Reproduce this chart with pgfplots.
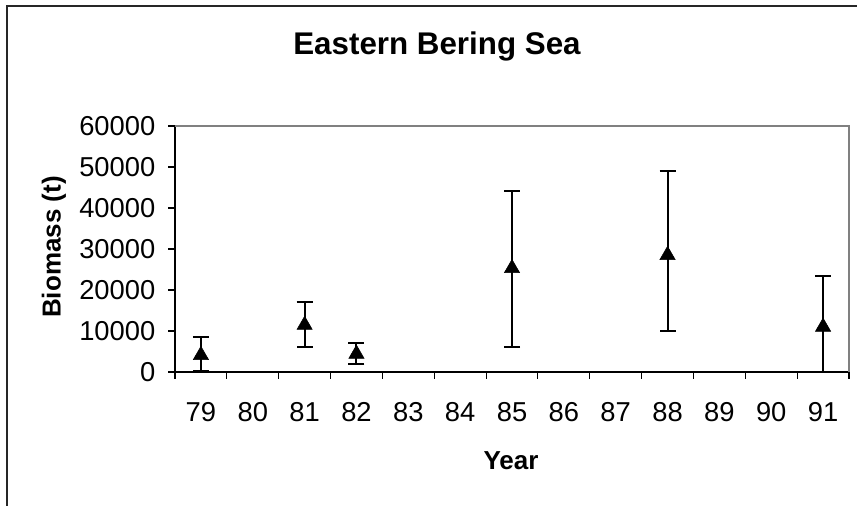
\documentclass[border=0pt]{standalone}
\usepackage{pgfplots}
\pgfplotsset{compat=1.18}
\usepackage{fontspec}
\setmainfont{Liberation Sans}

\begin{document}
\begin{tikzpicture}
% page size and outer chart frame
\path[use as bounding box] (0,0) rectangle (642.75pt,379.5pt);
\draw[line width=1.4pt, black!85] (5.25pt,-2pt) -- (5.25pt,375pt) -- (645pt,375pt);

\begin{axis}[
  at={(131.25pt,100.5pt)}, anchor=south west,
  scale only axis, width=505.5pt, height=184.5pt,
  xmin=78.5, xmax=91.5, ymin=0, ymax=60000,
  axis x line*=bottom, axis y line*=left,
  axis line style={line width=1pt, black, -},
  xtick={78.5,79.5,...,91.5},
  xticklabels={79,80,81,82,83,84,85,86,87,88,89,90,91},
  x tick label as interval,
  ytick={0,10000,...,60000},
  tick align=outside, major tick length=5.25pt,
  tick style={line width=0.8pt, black},
  /pgf/number format/assume math mode=true,
  /pgf/number format/set thousands separator={},
  scaled y ticks=false,
  tick label style={font=\fontsize{20.5}{24}\selectfont},
  xticklabel style={yshift=-14pt},
  yticklabel style={xshift=-6pt},
  clip=false,
]
% plot-area frame on the open sides
\draw[line width=1.1pt, black!50] (rel axis cs:0,1) -- (rel axis cs:1,1) -- (rel axis cs:1,0);

\addplot[
  only marks, mark=triangle*, mark size=6.6pt, black,
  error bars/.cd, y dir=both, y explicit,
  error bar style={line width=1.5pt, black},
  error mark options={rotate=90, mark size=6pt, black, line width=1.5pt},
] coordinates {
  (79,4100)  += (0,4500)  -= (0,3800)
  (81,11450) += (0,5700)  -= (0,5250)
  (82,4400)  += (0,2600)  -= (0,2450)
  (85,25300) += (0,18850) -= (0,19100)
  (88,28500) += (0,20600) -= (0,18450)
  (91,11000) += (0,12500) -= (0,11000)
};
\end{axis}

% titles and axis labels
\node[anchor=base, font=\fontsize{23.5}{28}\selectfont\bfseries] at (327.75pt,338.25pt) {Eastern Bering Sea};
\node[anchor=base, rotate=90, font=\fontsize{19.5}{23}\selectfont\bfseries] at (45.4pt,194.25pt) {Biomass (t)};
\node[anchor=base, font=\fontsize{19.5}{23}\selectfont\bfseries] at (383.25pt,27pt) {Year};
\end{tikzpicture}
\end{document}
